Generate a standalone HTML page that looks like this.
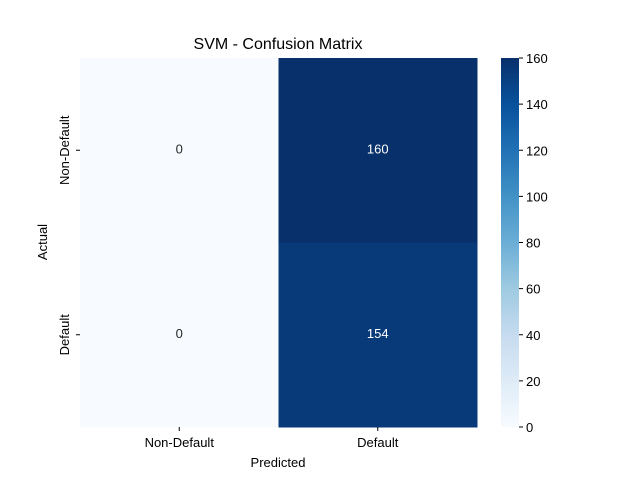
<!DOCTYPE html>
<html><head><meta charset="utf-8"><style>
body{margin:0;background:#fff;}
svg{font-family:"Liberation Sans","DejaVu Sans",sans-serif;}
</style></head><body>
<svg id="chart" width="640" height="480" viewBox="0 0 640 480">
<defs>
<linearGradient id="blues" x1="0" y1="1" x2="0" y2="0">
<stop offset="0" stop-color="#f7fbff"/><stop offset="0.125" stop-color="#deebf7"/>
<stop offset="0.25" stop-color="#c6dbef"/><stop offset="0.375" stop-color="#9ecae1"/>
<stop offset="0.5" stop-color="#6baed6"/><stop offset="0.625" stop-color="#4292c6"/>
<stop offset="0.75" stop-color="#2171b5"/><stop offset="0.875" stop-color="#08519c"/>
<stop offset="1" stop-color="#08306b"/>
</linearGradient>
</defs>
<text x="278" y="49" font-size="16" text-anchor="middle">SVM - Confusion Matrix</text>
<g id="cells"></g>
<text x="278" y="467" font-size="13" text-anchor="middle">Predicted</text>
<text transform="translate(47,242) rotate(-90)" font-size="13" text-anchor="middle">Actual</text>
<rect x="501" y="58" width="18" height="369" fill="url(#blues)"/>
<g id="cbticks"></g>
</svg>
<script>
const rowLabels=["Non-Default","Default"];
const colLabels=["Non-Default","Default"];
const values=[[0,160],[0,154]];
const cbTicks=[0,20,40,60,80,100,120,140,160];
const vmin=0,vmax=160;
const X0=80,Y0=58,W=397,H=369,NS="http://www.w3.org/2000/svg";
const stops=[[0,[247,251,255]],[.125,[222,235,247]],[.25,[198,219,239]],[.375,[158,202,225]],[.5,[107,174,214]],[.625,[66,146,198]],[.75,[33,113,181]],[.875,[8,81,156]],[1,[8,48,107]]];
function blues(t){t=Math.max(0,Math.min(1,t));for(let i=1;i<stops.length;i++){if(t<=stops[i][0]){const a=stops[i-1],b=stops[i],f=(t-a[0])/(b[0]-a[0]);return "rgb("+a[1].map((c,k)=>Math.round(c+(b[1][k]-c)*f)).join(",")+")";}}return "rgb(8,48,107)";}
function mk(tag,attrs,parent){const e=document.createElementNS(NS,tag);for(const k in attrs)e.setAttribute(k,attrs[k]);parent.appendChild(e);return e;}
const g=document.getElementById("cells"),svg=document.getElementById("chart");
const cw=W/colLabels.length,ch=H/rowLabels.length;
values.forEach((row,r)=>row.forEach((v,c)=>{
 const t=(v-vmin)/(vmax-vmin);
 const rect=mk("rect",{x:X0+c*cw,y:Y0+r*ch,width:cw+0.5,height:ch+0.5,fill:blues(t)},g);
 
 
 const tx=mk("text",{x:X0+(c+.5)*cw,y:Y0+(r+.5)*ch+3,"font-size":13,"text-anchor":"middle",fill:t>0.5?"#fff":"#262626"},g);
 tx.textContent=v;
 
 
}));
colLabels.forEach((l,c)=>{const x=X0+(c+.5)*cw;
 mk("line",{x1:x,x2:x,y1:Y0+H,y2:Y0+H+4,stroke:"#000"},svg);
 const t=mk("text",{x:x,y:Y0+H+20,"font-size":13,"text-anchor":"middle"},svg);t.textContent=l;
 
 });
rowLabels.forEach((l,r)=>{const y=Y0+(r+.5)*ch;
 mk("line",{x1:X0-4,x2:X0,y1:y,y2:y,stroke:"#000"},svg);
 const t=mk("text",{transform:"translate("+(X0-11)+","+y+") rotate(-90)","font-size":13,"text-anchor":"middle"},svg);t.textContent=l;
 
 });
const cb=document.getElementById("cbticks");
cbTicks.forEach(v=>{const y=Y0+H-(v-vmin)/(vmax-vmin)*H;
 mk("line",{x1:519,x2:523,y1:y,y2:y,stroke:"#000"},cb);
 const t=mk("text",{x:526,y:y+5,"font-size":13},cb);t.textContent=v;
 
 });
</script>
</body></html>
